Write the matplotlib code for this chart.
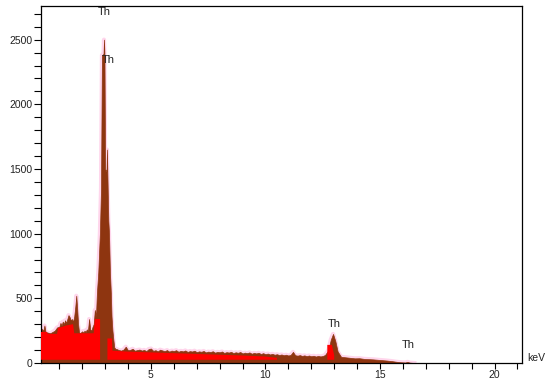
import numpy as np
import matplotlib.pyplot as plt
from matplotlib.ticker import MultipleLocator

plt.rcParams['font.family'] = ['Liberation Sans', 'DejaVu Sans']

# --- spectrum (keV, counts) ---
e_low = [0.20, 0.30, 0.35, 0.40, 0.50, 0.60, 0.70, 0.80, 0.90, 1.00, 1.05, 1.10,
         1.15, 1.20, 1.25, 1.30, 1.35, 1.40, 1.45, 1.50, 1.55, 1.60, 1.65, 1.70,
         1.74, 1.78, 1.82, 1.86, 1.90, 2.00, 2.05, 2.10, 2.15, 2.20, 2.25, 2.30,
         2.35, 2.40, 2.45, 2.50, 2.55, 2.60]
c_low = [270, 250, 290, 240, 235, 230, 240, 250, 275, 280, 310, 290,
         320, 300, 330, 310, 340, 370, 355, 330, 340, 320, 360, 440,
         520, 420, 300, 240, 230, 245, 235, 250, 240, 260, 250, 340,
         260, 250, 280, 300, 410, 360]

e_peak = [2.64, 2.70, 2.77, 2.82, 2.86, 2.93, 2.95, 2.97, 3.00, 3.06, 3.08, 3.10,
          3.14, 3.17, 3.21, 3.25, 3.28, 3.32, 3.36, 3.40, 3.45]
c_peak = [540, 700, 1000, 1350, 2380, 2390, 2500, 2390, 1500, 1480, 1650, 1450,
          1100, 1000, 700, 540, 360, 250, 180, 120, 110]

e_mid = list(np.round(np.arange(3.5, 12.65, 0.1), 2))
c_mid = [108, 100, 96, 104, 126, 98, 102, 110, 95, 100, 104,
         96, 101, 92, 108, 112, 94, 99, 90, 103, 97,
         92, 100, 88, 96, 93, 99, 87, 94, 90, 97,
         86, 92, 89, 95, 84, 90, 87, 93, 82, 88,
         85, 91, 80, 86, 83, 89, 78, 84, 81, 86,
         77, 83, 79, 85, 74, 80, 76, 82, 72, 78,
         74, 79, 70, 76, 68, 73, 66, 71, 64, 68,
         62, 66, 60, 64, 58, 63, 86, 60, 57, 61,
         55, 59, 53, 58, 52, 56, 50, 55, 51, 54,
         62]

e_high = [12.75, 12.85, 12.95, 13.05, 13.15, 13.3, 13.5, 13.7, 13.9, 14.1, 14.3,
          14.5, 14.7, 14.9, 15.1, 15.3, 15.5, 15.7, 15.9, 16.1, 16.2, 16.3, 16.5]
c_high = [100, 180, 225, 170, 90, 48, 44, 40, 36, 37, 32,
          30, 28, 25, 22, 19, 15, 10, 6, 4, 9, 3, 0]

energy = np.array(e_low + e_peak + e_mid + e_high)
counts = np.array(c_low + c_peak + c_mid + c_high)

# smooth red background
bg_e = [0.20, 0.45, 0.50, 0.90, 0.95, 1.30, 1.60, 1.65, 2.50, 2.55, 2.78, 2.80,
        3.09, 3.10, 3.30, 3.32, 4.0, 5.0, 6.0, 7.0, 8.0, 9.0, 10.0, 10.5, 10.6,
        12.6, 12.7, 12.9, 13.0, 13.1]
bg_c = [240, 240, 225, 225, 270, 290, 300, 230, 230, 340, 340, 25,
        25, 190, 190, 95, 88, 82, 76, 70, 64, 58, 50, 40, 25,
        25, 140, 140, 60, 25]
base = 25

labels = ['Th', 'Th', 'Th', 'Th']
label_e = [2.98, 3.14, 13.0, 16.24]
label_c = [2715, 2341, 305, 140]

brown = '#8e3510'
red = '#ff0000'
pink = '#ffd6ec'

fig = plt.figure(figsize=(5.5, 3.89), dpi=100)
ax = fig.add_axes([41/550, 26/389, 481/550, 357/389])

ax.plot(energy, counts, color=pink, lw=3, zorder=1)
ax.fill_between(energy, 0, counts, color=brown, lw=0.5, edgecolor=brown, zorder=2)
ax.fill_between(bg_e, base, bg_c, where=np.array(bg_c) > base, color=red, lw=0, zorder=3)

for t, x, y in zip(labels, label_e, label_c):
    ax.text(x, y, t, ha='center', va='center', fontsize=8, color='#222222', zorder=5)

ax.text(1.01, 0.014, 'keV', transform=ax.transAxes, ha='left', va='center', fontsize=7.5, color='#222222')

ax.set_xlim(0.2, 21.2)
ax.set_ylim(0, 2760)
ax.xaxis.set_major_locator(MultipleLocator(5))
ax.xaxis.set_minor_locator(MultipleLocator(1))
ax.yaxis.set_major_locator(MultipleLocator(500))
ax.yaxis.set_minor_locator(MultipleLocator(100))
ax.tick_params(which='both', direction='out', length=4, width=0.8, labelsize=7.5, colors='black', labelcolor='#222222', pad=1)
ax.tick_params(axis='y', which='both', length=5)
for s in ax.spines.values():
    s.set_linewidth(0.9)

fig.savefig('out.png', dpi=100)
